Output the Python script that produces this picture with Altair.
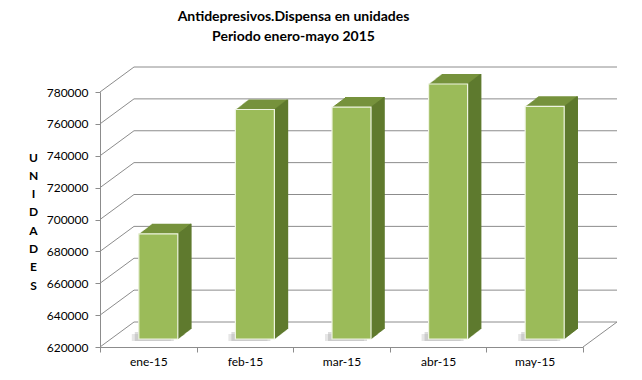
import altair as alt
import pandas as pd

categories = ["ene-15", "feb-15", "mar-15", "abr-15", "may-15"]
values = [686000, 764000, 765500, 780000, 766000]
y_ticks = [620000, 640000, 660000, 680000, 700000, 720000, 740000, 760000, 780000]
title_lines = ["Antidepresivos.Dispensa en unidades", "Periodo enero-mayo 2015"]
y_title = list("UNIDADES")

df = pd.DataFrame({"mes": categories, "unidades": values})
ticks_df = pd.DataFrame({"t": y_ticks})

W, H = 483, 255
DX, DY = 34, 25          # wall depth
BX, BY = 10, 8           # bar front offset inside the depth
BW = 39                  # bar width
BDX, BDY = 13, 10        # bar depth
FONT = "Lato"
GRID = "#8C8C8C"
FRONT = "#9BBB59"
TOP = "#76923C"
SIDE = "#5F7A2E"

xscale = alt.Scale(domain=categories, paddingInner=0, paddingOuter=0)
yscale = alt.Scale(domain=[620000, 780000], nice=False, zero=False)

x_axis = alt.Axis(
    title=None, labelAngle=0, tickBand="extent", tickSize=5, labelPadding=4,
    labelFont=FONT, labelFontSize=12, labelColor="#000000",
    domainColor=GRID, tickColor=GRID, grid=False,
)
y_axis = alt.Axis(
    values=y_ticks, format="d", grid=False, tickSize=5, labelPadding=7,
    labelFont=FONT, labelFontSize=12, labelColor="#000000",
    domainColor=GRID, tickColor=GRID,
    title=y_title, titleAngle=0, titleX=-67, titleY=65,
    titleAlign="center", titleBaseline="middle", titleLineHeight=18.3,
    titleFont=FONT, titleFontSize=12, titleFontWeight="bold", titleColor="#000000",
)

X = alt.X("mes:N", sort=categories, scale=xscale, axis=x_axis)
Y = alt.Y("unidades:Q", scale=yscale, axis=y_axis)
YT = alt.Y("t:Q", scale=yscale, axis=y_axis)
base0 = alt.datum(620000)

layers = []

# back wall gridlines
layers.append(
    alt.Chart(ticks_df).mark_rule(color=GRID, strokeWidth=1, yOffset=-DY).encode(
        x=alt.value(DX), x2=alt.value(W + DX), y=YT,
    )
)
# side wall diagonals
layers.append(
    alt.Chart(ticks_df).mark_rule(color=GRID, strokeWidth=1, y2Offset=-DY).encode(
        x=alt.value(0), x2=alt.value(DX), y=YT, y2=alt.Y2("t:Q"),
    )
)
# floor right edge
layers.append(
    alt.Chart(ticks_df).mark_rule(color=GRID, strokeWidth=1, y2Offset=-DY).transform_filter(
        alt.datum.t == 620000
    ).encode(
        x=alt.value(W), x2=alt.value(W + DX), y=YT, y2=alt.Y2("t:Q"),
    )
)

# soft floor shadows
for k, (dx, op) in enumerate([(-7, 0.25), (-4, 0.35)]):
    layers.append(
        alt.Chart(df).mark_bar(
            color="#9A9A9A", opacity=op, size=BW, xOffset=BX + dx,
            yOffset=-BY + 2, y2Offset=-BY - 5 - 2 * k
        ).encode(x=X, y=alt.Y("t0:Q", scale=yscale, axis=y_axis), y2=base0).transform_calculate(t0="620000")
    )

steps = 14
for i in range(steps):
    ox = BX + i * BDX / (steps - 1)
    oy = -(BY + i * BDY / (steps - 1))
    layers.append(
        alt.Chart(df).mark_bar(color=TOP, size=BW, xOffset=ox, yOffset=oy, y2Offset=oy).encode(
            x=X, y=Y, y2=base0
        )
    )
for i in range(steps):
    ox = BX + BW / 2 + i * BDX / (steps - 1)
    oy = -(BY + i * BDY / (steps - 1))
    layers.append(
        alt.Chart(df).mark_rule(color=SIDE, strokeWidth=1.6, xOffset=ox, yOffset=oy, y2Offset=oy).encode(
            x=X, y=Y, y2=base0
        )
    )

front = alt.Chart(df).mark_bar(
    color=FRONT, size=BW, xOffset=BX, yOffset=-BY, y2Offset=-BY,
    stroke="#EEF4E0", strokeWidth=1.2
).encode(x=X, y=Y, y2=base0)
layers.append(front)

chart = alt.layer(*layers).properties(
    width=W, height=H,
    title=alt.TitleParams(
        text=title_lines, font=FONT, fontSize=14, fontWeight="bold", color="#000000",
        anchor="middle", dx=-48, offset=23, lineHeight=20,
    ),
    padding={"left": 92, "top": 84, "right": 51, "bottom": 25},
    autosize=alt.AutoSizeParams(type="none"),
).configure_view(stroke=None)

chart.save("out.html", embed_options={"renderer": "svg", "actions": False})
